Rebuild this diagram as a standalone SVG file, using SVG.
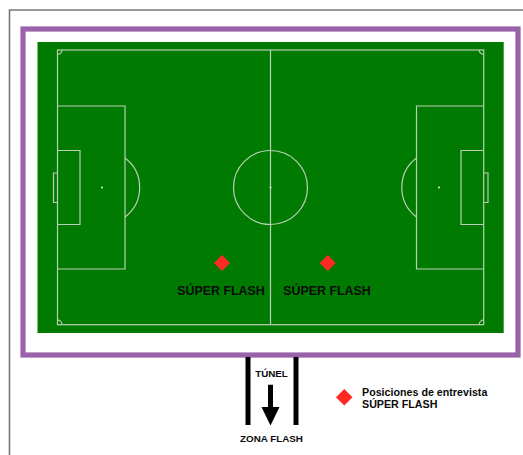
<svg xmlns="http://www.w3.org/2000/svg" width="523" height="455" viewBox="0 0 523 455">
<style>
.l{fill:none;stroke:#b8d0b4;stroke-width:1.2}
.t{font-family:"Liberation Sans",Arial,sans-serif;font-weight:700;fill:#0a0a0a}
.d{fill:#ff2a22}
.bar{fill:#000}
</style>
<rect width="523" height="455" fill="#fff"/>
<path d="M9.500 455V10H523" fill="none" stroke="#777" stroke-width="1.6"/>
<g id="stadium-frame"><rect x="23" y="29" width="495" height="326" fill="#fff" stroke="#9a62a9" stroke-width="5.200"/></g>
<g id="pitch">
<rect x="37.500" y="42" width="466.200" height="291" fill="#007a00"/>
<rect class="l" x="57.500" y="50" width="426.200" height="274.700"/>
<path class="l" d="M270.500 50V324.700"/>
<circle class="l" cx="270.500" cy="187.500" r="37"/>
<circle cx="270.500" cy="187.500" r="1" fill="#d8e8d4"/>
<path class="l" d="M57.500 106H125V269H57.500M57.500 150.500H80V224.500H57.500M57.500 173H53.500V202.500H57.500"/>
<path class="l" d="M125 158A37 37 0 0 1 125 217"/>
<circle cx="102" cy="187.500" r="1" fill="#e8f0e4"/>
<path class="l" d="M483.700 106H416.500V269H483.700M483.700 150.500H461V224.500H483.700M483.700 173H488V202.500H483.700"/>
<path class="l" d="M416.500 158A37 37 0 0 0 416.500 217"/>
<circle cx="439" cy="187.500" r="1" fill="#e8f0e4"/>
<path class="l" d="M62 50A4.500 4.500 0 0 1 57.500 54.500M479.200 50A4.500 4.500 0 0 0 483.700 54.500M57.500 320.200A4.500 4.500 0 0 1 62 324.700M483.700 320.200A4.500 4.500 0 0 0 479.200 324.700"/>
</g>
<g id="super-flash-left"><path class="d" d="M222 255L230 263L222 271L214 263Z"/><text class="t" x="221" y="295" font-size="12.400" text-anchor="middle">SÚPER FLASH</text></g>
<g id="super-flash-right"><path class="d" d="M327.700 255L335.700 263L327.700 271L319.700 263Z"/><text class="t" x="327" y="295" font-size="12.400" text-anchor="middle">SÚPER FLASH</text></g>
<g id="tunnel">
<rect class="bar" x="245.500" y="357" width="5" height="68"/>
<rect class="bar" x="293.500" y="357" width="5" height="68"/>
<text class="t" x="271.500" y="377" font-size="9.800" text-anchor="middle">TÚNEL</text>
<text class="t" x="271.500" y="442" font-size="9.800" text-anchor="middle">ZONA FLASH</text>
</g>
<g id="connectors"><path d="M268 384.700H273V407H279.500L270.500 425.500L261.500 407H268Z" fill="#000"/></g>
<g id="legend"><path class="d" d="M344.300 389L352.500 397.300L344.300 405.600L336 397.300Z"/>
<text class="t" x="362" y="395.500" font-size="10.700">Posiciones de entrevista</text>
<text class="t" x="362" y="408" font-size="10.700">SÚPER FLASH</text></g>
</svg>
